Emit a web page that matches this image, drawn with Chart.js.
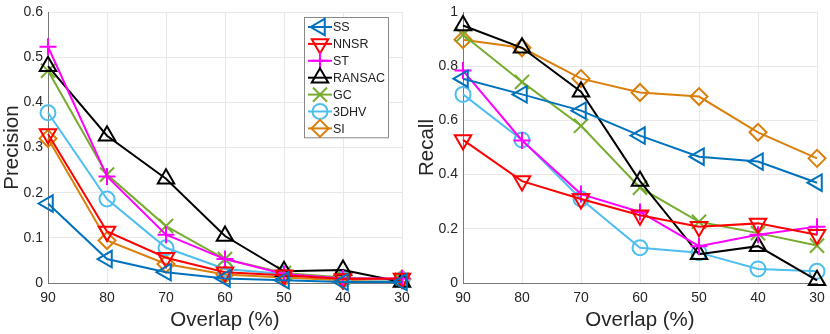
<!DOCTYPE html>
<html>
<head>
<meta charset="utf-8">
<script src="https://cdn.jsdelivr.net/npm/chart.js@4/dist/chart.umd.min.js"></script>
<style>
  html, body { margin: 0; padding: 0; background: #fff; }
  #wrap { position: relative; width: 830px; height: 334px; }
  canvas { position: absolute; top: 0; }
</style>
</head>
<body>
<div id="wrap">
  <canvas id="prec" width="415" height="334" style="left:0"></canvas>
  <canvas id="rec" width="415" height="334" style="left:415px"></canvas>
</div>
<script>
// ── data ──────────────────────────────────────────────────────────────────────
const overlap = ['90', '80', '70', '60', '50', '40', '30'];
const methods = ['SS', 'NNSR', 'ST', 'RANSAC', 'GC', '3DHV', 'SI'];

// precision per method (left panel)
const precSS     = [0.176, 0.053, 0.024, 0.010, 0.006, 0.002, 0.002];
const precNNSR   = [0.330, 0.114, 0.056, 0.024, 0.017, 0.009, 0.010];
const precST     = [0.523, 0.236, 0.107, 0.053, 0.020, 0.010, 0.010];
const precRANSAC = [0.480, 0.326, 0.231, 0.104, 0.026, 0.029, 0.002];
const precGC     = [0.470, 0.240, 0.126, 0.053, 0.022, 0.012, 0.007];
const prec3DHV   = [0.377, 0.186, 0.078, 0.031, 0.020, 0.009, 0.007];
const precSI     = [0.320, 0.094, 0.042, 0.019, 0.012, 0.006, 0.009];

// recall per method (right panel)
const recSS     = [0.754, 0.696, 0.636, 0.544, 0.466, 0.448, 0.370];
const recNNSR   = [0.528, 0.376, 0.310, 0.250, 0.208, 0.220, 0.178];
const recST     = [0.784, 0.526, 0.328, 0.262, 0.136, 0.178, 0.208];
const recRANSAC = [0.950, 0.868, 0.706, 0.376, 0.106, 0.136, 0.010];
const recGC     = [0.916, 0.742, 0.580, 0.352, 0.226, 0.184, 0.138];
const rec3DHV   = [0.696, 0.528, 0.310, 0.130, 0.112, 0.052, 0.043];
const recSI     = [0.898, 0.868, 0.754, 0.703, 0.688, 0.556, 0.460];

const precTicks = [0, 0.1, 0.2, 0.3, 0.4, 0.5, 0.6];
const recTicks  = [0, 0.2, 0.4, 0.6, 0.8, 1];

// ── styles ────────────────────────────────────────────────────────────────────
const COLORS = ['#0072BD', '#FF0000', '#FF00FF', '#000000', '#77AC30', '#4DBEEE', '#D97F0A'];
const MARKERS = [
    { style: 'triangle', rot: -90, r: 9.5 },
    { style: 'triangle', rot: 180, r: 9.5 },
    { style: 'cross',    rot: 0,   r: 8.5 },
    { style: 'triangle', rot: 0,   r: 9.5 },
    { style: 'crossRot', rot: 0,   r: 10 },
    { style: 'circle',   rot: 0,   r: 7.5 },
    { style: 'rectRot',  rot: 0,   r: 8.5 },
];
const FONT = 'Liberation Sans, Arial, sans-serif';
const GRID = '#e8e8e8';
const AXIS = '#777';

function makeDatasets(series) {
    return series.map((vals, i) => ({
        label: methods[i],
        data: vals,
        borderColor: COLORS[i],
        backgroundColor: 'rgba(0,0,0,0)',
        borderWidth: 2,
        pointStyle: MARKERS[i].style,
        pointRotation: MARKERS[i].rot,
        pointRadius: MARKERS[i].r,
        pointBorderWidth: 2,
        pointBackgroundColor: 'rgba(0,0,0,0)',
        pointBorderColor: COLORS[i],
        tension: 0,
        clip: false,
    }));
}

// MATLAB-style legend box: line sample with marker, then label
const boxLegend = {
    id: 'boxLegend',
    afterDatasetsDraw(chart, args, opts) {
        if (!opts.show) return;
        const ctx = chart.ctx;
        const x0 = opts.x, y0 = opts.y, w = 84, rowH = 16.9;
        const h = rowH * methods.length + 2;
        ctx.save();
        ctx.fillStyle = '#fff';
        ctx.fillRect(x0, y0, w, h);
        ctx.strokeStyle = '#888';
        ctx.lineWidth = 1;
        ctx.strokeRect(x0 + 0.5, y0 + 0.5, w, h);
        ctx.font = '12.5px ' + FONT;
        ctx.textBaseline = 'middle';
        methods.forEach((m, i) => {
            const cy = y0 + 10 + i * rowH;
            ctx.strokeStyle = COLORS[i];
            ctx.lineWidth = 2;
            ctx.beginPath();
            ctx.moveTo(x0 + 4, cy);
            ctx.lineTo(x0 + 28, cy);
            ctx.stroke();
            ctx.fillStyle = 'rgba(0,0,0,0)';
            Chart.helpers.drawPoint(ctx, {
                pointStyle: MARKERS[i].style, rotation: MARKERS[i].rot,
                radius: MARKERS[i].r, borderWidth: 2,
            }, x0 + 16, cy);
            ctx.fillStyle = '#222';
            ctx.fillText(m, x0 + 29, cy + 1);
        });
        ctx.restore();
    }
};

function buildChart(id, series, yTitle, ticksList, legendOn) {
    const ymax = ticksList[ticksList.length - 1];
    return new Chart(document.getElementById(id), {
        type: 'line',
        data: { labels: overlap, datasets: makeDatasets(series) },
        plugins: [boxLegend],
        options: {
            responsive: false,
            animation: false,
            layout: { padding: { top: 0, right: 13, left: 0, bottom: 0 } },
            plugins: {
                legend: { display: false },
                tooltip: { enabled: false },
                boxLegend: { show: legendOn, x: 304, y: 17 },
            },
            scales: {
                x: {
                    type: 'category',
                    offset: false,
                    grid: { color: GRID, drawTicks: false },
                    border: { color: AXIS, width: 1 },
                    ticks: { color: '#262626', font: { family: FONT, size: 14 }, padding: 7, maxRotation: 0 },
                    title: { display: true, text: 'Overlap (%)', color: '#262626',
                        font: { family: FONT, size: 20.5 }, padding: { top: 0, bottom: 1 } },
                    afterFit: s => { s.height = 51; s.paddingLeft = 0; s.paddingRight = 0; },
                },
                y: {
                    min: 0, max: ymax,
                    afterBuildTicks: s => { s.ticks = ticksList.map(v => ({ value: v })); },
                    grid: { color: GRID, drawTicks: false },
                    border: { color: AXIS, width: 1 },
                    ticks: { color: '#262626', font: { family: FONT, size: 14 }, padding: 5,
                        callback: v => String(v) },
                    title: { display: true, text: yTitle, color: '#262626',
                        font: { family: FONT, size: 20.5 }, padding: 0 },
                    afterFit: s => { s.width = 48; s.paddingTop = 5; s.paddingBottom = 0; },
                },
            },
        },
    });
}

buildChart('prec',
    [precSS, precNNSR, precST, precRANSAC, precGC, prec3DHV, precSI],
    'Precision', precTicks, true);
buildChart('rec',
    [recSS, recNNSR, recST, recRANSAC, recGC, rec3DHV, recSI],
    'Recall', recTicks, false);
</script>
</body>
</html>
